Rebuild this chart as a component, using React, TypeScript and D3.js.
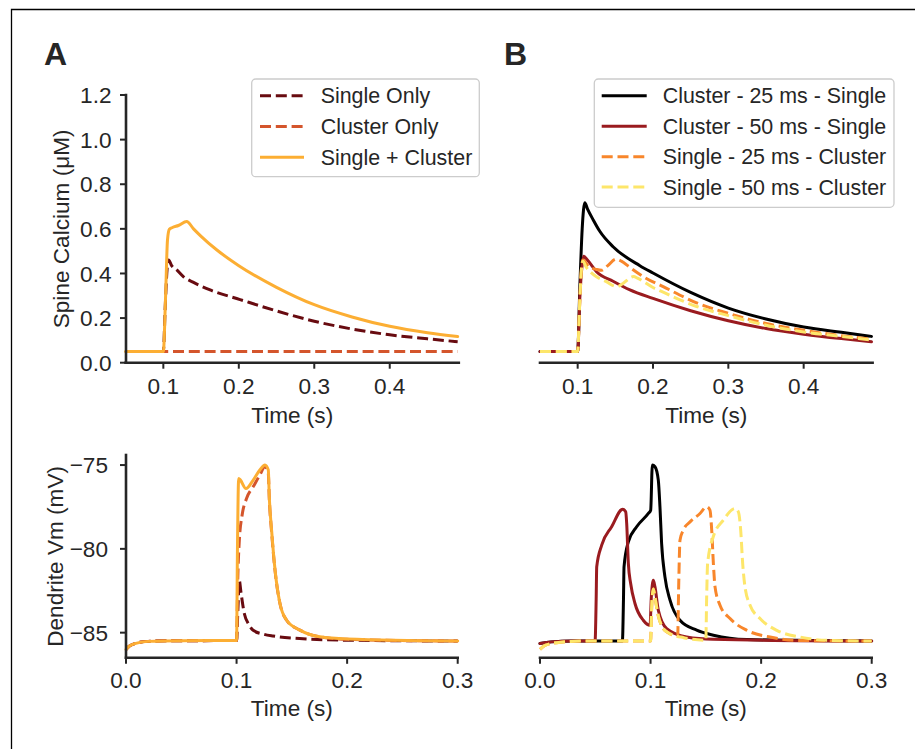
import React from "react";
import * as d3 from "d3";

type Pt = [number, number];

// ---------- tick values ----------
const caTicksX = [0.1, 0.2, 0.3, 0.4];
const caTicksY = [0.0, 0.2, 0.4, 0.6, 0.8, 1.0, 1.2];
const vmTicksX = [0.0, 0.1, 0.2, 0.3];
const vmTicksY = [-85, -80, -75];

// ---------- legend labels ----------
const legendA = ["Single Only", "Cluster Only", "Single + Cluster"];
const legendB = [
  "Cluster - 25 ms - Single",
  "Cluster - 50 ms - Single",
  "Single - 25 ms - Cluster",
  "Single - 50 ms - Cluster",
];

// ---------- Panel A top: spine calcium (µM) vs time (s) ----------
const caSingleOnly: Pt[] = [
  [0.05, 0.05], [0.1, 0.05], [0.1025, 0.25], [0.105, 0.42], [0.107, 0.46],
  [0.111, 0.435], [0.1178, 0.416], [0.1265, 0.386], [0.14, 0.36], [0.162, 0.326],
  [0.2017, 0.283], [0.25, 0.232], [0.3, 0.186], [0.35, 0.151], [0.4, 0.125],
  [0.45, 0.107], [0.49, 0.094],
];
const caClusterOnly: Pt[] = [
  [0.05, 0.05], [0.2, 0.05], [0.35, 0.05], [0.49, 0.05],
];
const caSingleCluster: Pt[] = [
  [0.05, 0.05], [0.1, 0.05], [0.103, 0.3], [0.1055, 0.55], [0.108, 0.598],
  [0.112, 0.606], [0.12, 0.615], [0.131, 0.633], [0.14, 0.6], [0.149, 0.57],
  [0.171, 0.505], [0.2, 0.435], [0.25, 0.338], [0.3, 0.26], [0.35, 0.205],
  [0.4, 0.163], [0.45, 0.134], [0.49, 0.117],
];

// ---------- Panel B top ----------
const caC25S: Pt[] = [
  [0.05, 0.05], [0.1, 0.05], [0.103, 0.35], [0.106, 0.6], [0.1095, 0.717],
  [0.113, 0.69], [0.1207, 0.64], [0.1296, 0.588], [0.147, 0.52], [0.1826, 0.435],
  [0.2, 0.402], [0.25, 0.315], [0.3, 0.245], [0.35, 0.196], [0.4, 0.16],
  [0.45, 0.136], [0.49, 0.118],
];
const caC50S: Pt[] = [
  [0.05, 0.05], [0.1, 0.05], [0.103, 0.3], [0.106, 0.44], [0.108, 0.477],
  [0.113, 0.46], [0.125, 0.408], [0.147, 0.365], [0.1694, 0.326], [0.2, 0.288],
  [0.25, 0.233], [0.3, 0.188], [0.35, 0.153], [0.4, 0.128],
  [0.45, 0.108], [0.49, 0.094],
];
const caS25C: Pt[] = [
  [0.05, 0.05], [0.1, 0.05], [0.1025, 0.25], [0.105, 0.42], [0.107, 0.46],
  [0.115, 0.43], [0.125, 0.418], [0.132, 0.414], [0.14, 0.435], [0.151, 0.464],
  [0.158, 0.455], [0.169, 0.428], [0.19, 0.38], [0.2135, 0.341], [0.258, 0.268],
  [0.3, 0.221], [0.35, 0.176], [0.4, 0.145], [0.45, 0.121], [0.49, 0.105],
];
const caS50C: Pt[] = [
  [0.05, 0.05], [0.1, 0.05], [0.1025, 0.25], [0.105, 0.42], [0.107, 0.455],
  [0.111, 0.43], [0.116, 0.41], [0.125, 0.385], [0.138, 0.363], [0.152, 0.341],
  [0.16, 0.355], [0.174, 0.386], [0.18, 0.378], [0.2, 0.337], [0.2135, 0.316],
  [0.258, 0.252], [0.3, 0.211], [0.35, 0.168], [0.4, 0.138], [0.45, 0.118],
  [0.49, 0.102],
];

// ---------- Panel A bottom: dendrite Vm (mV) vs time (s) ----------
const vmSingleOnly: Pt[] = [
  [0, -86.0], [0.003, -85.8], [0.008, -85.65], [0.02, -85.52], [0.05, -85.48],
  [0.1, -85.47], [0.1012, -83.6], [0.1025, -81.9], [0.104, -82.6], [0.107, -83.86],
  [0.111, -84.5], [0.115, -84.86], [0.125, -85.1], [0.133, -85.2], [0.157, -85.35],
  [0.2, -85.45], [0.3, -85.5],
];
const vmClusterOnly: Pt[] = [
  [0, -86.0], [0.003, -85.8], [0.008, -85.65], [0.02, -85.52], [0.05, -85.48],
  [0.1, -85.47], [0.101, -82], [0.1025, -79.5], [0.105, -78.0], [0.109, -77.0],
  [0.115, -76.3], [0.121, -75.6], [0.1257, -75.1], [0.1287, -75.5], [0.1296, -77.0],
  [0.1317, -79.0], [0.1348, -81.3], [0.1392, -83.25], [0.1453, -84.26], [0.1573, -84.85],
  [0.1754, -85.25], [0.2, -85.4], [0.3, -85.5],
];
const vmSingleCluster: Pt[] = [
  [0, -86.0], [0.003, -85.8], [0.008, -85.65], [0.02, -85.52], [0.05, -85.48],
  [0.1, -85.47], [0.1008, -80], [0.1019, -75.8], [0.1035, -75.9], [0.1085, -76.4],
  [0.1152, -75.88], [0.1212, -75.28], [0.1257, -75.0], [0.1287, -75.3], [0.1296, -76.9],
  [0.1317, -78.9], [0.1348, -81.26], [0.1392, -83.25], [0.1453, -84.26], [0.1573, -84.85],
  [0.1754, -85.25], [0.2, -85.38], [0.3, -85.5],
];

// ---------- Panel B bottom ----------
const vmC25S: Pt[] = [
  [0, -85.65], [0.01, -85.55], [0.03, -85.5], [0.0745, -85.5], [0.0755, -83.0],
  [0.076, -81.07], [0.0799, -79.58], [0.0874, -78.68], [0.098, -77.89], [0.1001, -77.69],
  [0.1016, -75.0], [0.104, -75.1], [0.107, -75.9], [0.1085, -77.5], [0.11, -79.68],
  [0.113, -81.67], [0.1176, -83.06], [0.1266, -84.26], [0.1417, -84.85], [0.1568, -85.15],
  [0.187, -85.41], [0.3, -85.5],
];
const vmC50S: Pt[] = [
  [0, -85.65], [0.01, -85.55], [0.03, -85.5], [0.0498, -85.5], [0.0508, -83.0],
  [0.0513, -81.07], [0.0558, -79.78], [0.0648, -78.68], [0.0748, -77.63], [0.0775, -77.79],
  [0.0784, -78.48], [0.0799, -80.87], [0.082, -82.07], [0.0859, -83.26], [0.0934, -84.26],
  [0.0995, -84.56], [0.1007, -82.87], [0.1025, -81.87], [0.104, -82.27], [0.107, -83.66],
  [0.1146, -84.76], [0.1326, -85.26], [0.1568, -85.4], [0.3, -85.5],
];
const vmS25C: Pt[] = [
  [0, -86.0], [0.005, -85.75], [0.015, -85.6], [0.04, -85.5], [0.1, -85.5],
  [0.101, -83.5], [0.1025, -82.4], [0.104, -82.9], [0.107, -84.0], [0.111, -84.7],
  [0.116, -85.0], [0.1245, -85.2], [0.1255, -82.0], [0.1266, -79.48], [0.1296, -78.88],
  [0.1357, -78.39], [0.1447, -77.89], [0.1507, -77.49], [0.1537, -77.69], [0.1553, -78.88],
  [0.1568, -80.87], [0.1583, -82.27], [0.1628, -83.36], [0.1719, -84.16], [0.187, -84.86],
  [0.2081, -85.26], [0.2322, -85.46], [0.3, -85.5],
];
const vmS50C: Pt[] = [
  [0, -86.0], [0.005, -85.75], [0.015, -85.6], [0.04, -85.5], [0.1, -85.5],
  [0.101, -83.5], [0.1025, -82.4], [0.104, -82.9], [0.107, -84.0], [0.111, -84.7],
  [0.116, -85.0], [0.13, -85.3], [0.15, -85.45], [0.1507, -83.0], [0.1516, -80.87],
  [0.1567, -79.28], [0.1658, -78.29], [0.1764, -77.59], [0.1794, -77.79], [0.1815, -78.88],
  [0.1833, -80.87], [0.1854, -82.27], [0.19, -83.36], [0.199, -84.16], [0.2141, -84.86],
  [0.2352, -85.26], [0.2593, -85.46], [0.3, -85.5],
];

// ---------- styles ----------
const FONT = "'Liberation Sans', Arial, Helvetica, sans-serif";
const INK = "#262626";
const DASH = "11,4.8";
const stylesA = [
  { color: "#680b10", dash: DASH },
  { color: "#d4552c", dash: DASH },
  { color: "#fcae33", dash: null as string | null },
];
const stylesB = [
  { color: "#000000", dash: null as string | null },
  { color: "#9a1b1f", dash: null as string | null },
  { color: "#f8862b", dash: DASH },
  { color: "#fde66a", dash: DASH },
];

type Scale = d3.ScaleLinear<number, number>;

function Series({ data, x, y, color, dash }: { data: Pt[]; x: Scale; y: Scale; color: string; dash: string | null }) {
  const line = d3
    .line<Pt>()
    .x((d) => x(d[0]))
    .y((d) => y(d[1]))
    .curve(d3.curveMonotoneX);
  return (
    <path
      d={line(data) || ""}
      fill="none"
      stroke={color}
      strokeWidth={3}
      strokeDasharray={dash || undefined}
      strokeLinejoin="round"
      strokeLinecap={dash ? "butt" : "round"}
    />
  );
}

function XAxis({ x, y0, ticks, fmt, labelY, titleY, fs }: { x: Scale; y0: number; ticks: number[]; fmt: (v: number) => string; labelY: number; titleY: number; fs: number }) {
  const [r0, r1] = x.range();
  return (
    <g>
      <line x1={r0} x2={r1} y1={y0} y2={y0} stroke={INK} strokeWidth={2.6} strokeLinecap="square" />
      {ticks.map((t) => (
        <g key={t}>
          <line x1={x(t)} x2={x(t)} y1={y0} y2={y0 + 6} stroke={INK} strokeWidth={2} />
          <text x={x(t)} y={labelY} textAnchor="middle" fontSize={fs} fill={INK} fontFamily={FONT}>
            {fmt(t)}
          </text>
        </g>
      ))}
      <text x={(r0 + r1) / 2} y={titleY} textAnchor="middle" fontSize={fs} fill={INK} fontFamily={FONT}>
        Time (s)
      </text>
    </g>
  );
}

function YAxis({ y, x0, ticks, fmt, labelX, title, titleX, fs }: { y: Scale; x0: number; ticks: number[]; fmt: (v: number) => string; labelX: number; title: string; titleX: number; fs: number }) {
  const [r0, r1] = y.range();
  return (
    <g>
      <line x1={x0} x2={x0} y1={r0} y2={r1} stroke={INK} strokeWidth={2.6} strokeLinecap="square" />
      {ticks.map((t) => (
        <g key={t}>
          <line x1={x0 - 6} x2={x0} y1={y(t)} y2={y(t)} stroke={INK} strokeWidth={2} />
          <text x={labelX} y={y(t) + fs * 0.36} textAnchor="end" fontSize={fs} fill={INK} fontFamily={FONT}>
            {fmt(t)}
          </text>
        </g>
      ))}
      <text
        transform={`translate(${titleX},${(r0 + r1) / 2}) rotate(-90)`}
        textAnchor="middle"
        fontSize={fs}
        fill={INK}
        fontFamily={FONT}
      >
        {title}
      </text>
    </g>
  );
}

function Legend({ x, y, w, h, rows, labels, styles, lineX0, lineX1, textX, fs }: { x: number; y: number; w: number; h: number; rows: number[]; labels: string[]; styles: { color: string; dash: string | null }[]; lineX0: number; lineX1: number; textX: number; fs: number }) {
  return (
    <g>
      <rect x={x} y={y} width={w} height={h} rx={4} ry={4} fill="#ffffff" fillOpacity={0.85} stroke="#cccccc" strokeWidth={1.3} />
      {labels.map((lab, i) => (
        <g key={lab}>
          <line
            x1={lineX0}
            x2={lineX1}
            y1={rows[i]}
            y2={rows[i]}
            stroke={styles[i].color}
            strokeWidth={3}
            strokeDasharray={styles[i].dash || undefined}
          />
          <text x={textX} y={rows[i] + fs * 0.36} fontSize={fs} fill={INK} fontFamily={FONT}>
            {lab}
          </text>
        </g>
      ))}
    </g>
  );
}

export default function App() {
  const fs = 22.6;
  const lfs = 21.4;
  const xCaA = d3.scaleLinear().domain([0.05, 0.4915]).range([125.6, 458.8]);
  const xCaB = d3.scaleLinear().domain([0.05, 0.4915]).range([540, 872.6]);
  const yCa = d3.scaleLinear().domain([0, 1.2]).range([362.7, 95]);
  const xVmA = d3.scaleLinear().domain([0, 0.3]).range([126, 457.7]);
  const xVmB = d3.scaleLinear().domain([0, 0.3]).range([540, 871.7]);
  const yVm = d3.scaleLinear().domain([-86.5, -74.4]).range([657.8, 455]);

  const f1 = d3.format(".1f");
  const f0 = d3.format("d");

  const caA = [caSingleOnly, caClusterOnly, caSingleCluster];
  const caB = [caC25S, caC50S, caS25C, caS50C];
  const vmA = [vmSingleOnly, vmClusterOnly, vmSingleCluster];
  const vmB = [vmC25S, vmC50S, vmS25C, vmS50C];

  return (
    <svg
      width={915}
      height={749}
      viewBox="0 0 915 749"
      style={{ position: "absolute", left: 0, top: 0, background: "#ffffff" }}
    >
      <rect x={0} y={0} width={915} height={749} fill="#ffffff" />
      <path d="M11.5,749 V9.5 H915" fill="none" stroke="#000" strokeWidth={1.3} />

      <text x={44} y={65} fontSize={32} fontWeight="bold" fill={INK} fontFamily={FONT}>A</text>
      <text x={504} y={65} fontSize={32} fontWeight="bold" fill={INK} fontFamily={FONT}>B</text>

      {/* Panel A top */}
      {caA.map((d, i) => (
        <Series key={i} data={d} x={xCaA} y={yCa} color={stylesA[i].color} dash={stylesA[i].dash} />
      ))}
      <YAxis y={yCa} x0={126} ticks={caTicksY} fmt={f1} labelX={111.5} title="Spine Calcium (μM)" titleX={68.5} fs={fs} />
      <XAxis x={xCaA} y0={362.7} ticks={caTicksX} fmt={f1} labelY={393.5} titleY={422.5} fs={fs} />
      <Legend x={251.7} y={79} w={227.6} h={97.7} rows={[95.7, 126.5, 157.3]} labels={legendA} styles={stylesA} lineX0={260} lineX1={304} textX={320.7} fs={lfs} />

      {/* Panel B top */}
      {caB.map((d, i) => (
        <Series key={i} data={d} x={xCaB} y={yCa} color={stylesB[i].color} dash={stylesB[i].dash} />
      ))}
      <XAxis x={xCaB} y0={362.7} ticks={caTicksX} fmt={f1} labelY={393.5} titleY={422.5} fs={fs} />
      <Legend x={594.3} y={79} w={299.7} h={128.3} rows={[95.7, 126.2, 156.7, 187.0]} labels={legendB} styles={stylesB} lineX0={601.7} lineX1={646.7} textX={662.7} fs={lfs} />

      {/* Panel A bottom */}
      {vmA.map((d, i) => (
        <Series key={i} data={d} x={xVmA} y={yVm} color={stylesA[i].color} dash={stylesA[i].dash} />
      ))}
      <YAxis y={yVm} x0={126} ticks={vmTicksY} fmt={f0} labelX={108} title="Dendrite Vm (mV)" titleX={62.5} fs={fs} />
      <XAxis x={xVmA} y0={657.8} ticks={vmTicksX} fmt={f1} labelY={688} titleY={716} fs={fs} />

      {/* Panel B bottom */}
      {vmB.map((d, i) => (
        <Series key={i} data={d} x={xVmB} y={yVm} color={stylesB[i].color} dash={stylesB[i].dash} />
      ))}
      <XAxis x={xVmB} y0={657.8} ticks={vmTicksX} fmt={f1} labelY={688} titleY={716} fs={fs} />
    </svg>
  );
}
